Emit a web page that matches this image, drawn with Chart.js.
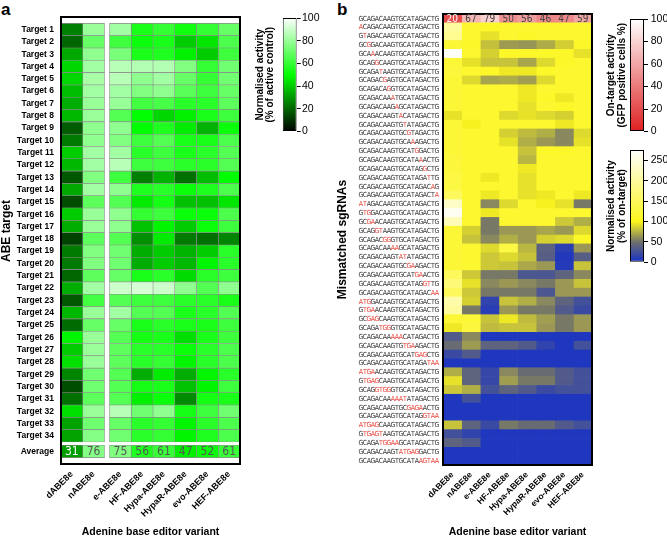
<!DOCTYPE html>
<html><head><meta charset="utf-8">
<script src="https://cdn.jsdelivr.net/npm/chart.js@4.4.1/dist/chart.umd.min.js"></script>
<style>
html,body{margin:0;padding:0;background:#fff}
body{width:667px;height:538px;position:relative;overflow:hidden;font-family:'Liberation Sans',Arial,sans-serif}
canvas{position:absolute}
.pl{position:absolute;font-weight:bold;font-size:17px;line-height:17px;color:#000}
</style></head><body>
<div class="pl" style="left:1px;top:1px">a</div>
<div class="pl" style="left:337px;top:1px">b</div>
<canvas id="ha" width="250" height="538" style="left:0;top:0"></canvas>
<canvas id="ca" width="80" height="150" style="left:250px;top:0"></canvas>
<canvas id="hb" width="265" height="538" style="left:335px;top:0"></canvas>
<canvas id="cb1" width="72" height="150" style="left:595px;top:0"></canvas>
<canvas id="cb2" width="72" height="135" style="left:595px;top:140px"></canvas>
<script>
// ---------- DATA ----------
const variants = ['dABE8e','nABE8e','e-ABE8e','HF-ABE8e','Hypa-ABE8e','HypaR-ABE8e','evo-ABE8e','HEF-ABE8e'];
const targetLabels = ['Target 1','Target 2','Target 3','Target 4','Target 5','Target 6','Target 7','Target 8','Target 9','Target 10','Target 11','Target 12','Target 13','Target 14','Target 15','Target 16','Target 17','Target 18','Target 19','Target 20','Target 21','Target 22','Target 23','Target 24','Target 25','Target 26','Target 27','Target 28','Target 29','Target 30','Target 31','Target 32','Target 33','Target 34','Average'];
// panel a: normalised activity (% of active control), Target 1..34
const a_dABE8e = [25,20,33,42,42,37,34,36,18,24,40,36,17,33,15,40,34,13,24,24,20,34,17,36,21,48,40,44,26,15,22,44,32,32];
const a_nABE8e = [80,70,78,82,83,82,80,80,78,78,82,82,75,82,68,80,80,68,75,75,68,82,63,80,70,80,80,80,72,72,68,80,72,76];
const a_eABE8e = [82,62,74,86,86,82,80,66,78,75,82,86,62,78,66,78,78,66,72,72,70,90,66,82,70,66,68,68,66,66,66,86,70,72];
const a_HFABE8e = [55,52,55,85,78,75,63,50,50,62,58,62,25,56,46,60,38,28,34,34,55,92,62,66,55,54,58,58,34,54,47,72,58,58];
const a_HypaABE8e = [60,55,56,85,82,78,64,42,56,66,62,62,35,58,54,62,48,46,40,40,58,90,62,66,58,55,58,60,46,55,52,78,60,60];
const a_HypaRABE8e = [53,40,47,75,70,67,58,47,46,55,55,58,22,52,38,52,40,24,35,36,43,78,58,55,55,44,52,48,34,38,27,54,48,48];
const a_evoABE8e = [60,45,40,60,60,62,58,55,35,55,58,58,37,56,38,52,52,22,40,48,58,66,58,58,55,55,58,58,48,48,54,62,58,56];
const a_HEFABE8e = [70,65,62,72,72,70,68,62,52,65,66,66,50,65,45,65,62,26,58,58,62,78,55,66,62,62,65,65,58,62,55,72,65,65];
const averagesA = [31,76,75,56,61,47,52,61];

// panel b
const sgRNAs = ['GCAGACAAGTGCATAGACTG','ACAGACAAGTGCATAGACTG','GTAGACAAGTGCATAGACTG','GCGGACAAGTGCATAGACTG','GCAAACAAGTGCATAGACTG','GCAGGCAAGTGCATAGACTG','GCAGATAAGTGCATAGACTG','GCAGACGAGTGCATAGACTG','GCAGACAGGTGCATAGACTG','GCAGACAAATGCATAGACTG','GCAGACAAGAGCATAGACTG','GCAGACAAGTACATAGACTG','GCAGACAAGTGTATAGACTG','GCAGACAAGTGCGTAGACTG','GCAGACAAGTGCAAAGACTG','GCAGACAAGTGCATGGACTG','GCAGACAAGTGCATAAACTG','GCAGACAAGTGCATAGGCTG','GCAGACAAGTGCATAGATTG','GCAGACAAGTGCATAGACAG','GCAGACAAGTGCATAGACTA','ATAGACAAGTGCATAGACTG','GTGGACAAGTGCATAGACTG','GCGAACAAGTGCATAGACTG','GCAGGTAAGTGCATAGACTG','GCAGACGGGTGCATAGACTG','GCAGACAAAAGCATAGACTG','GCAGACAAGTATATAGACTG','GCAGACAAGTGCGAAGACTG','GCAGACAAGTGCATGAACTG','GCAGACAAGTGCATAGGTTG','GCAGACAAGTGCATAGACAA','ATGGACAAGTGCATAGACTG','GTGAACAAGTGCATAGACTG','GCGAGCAAGTGCATAGACTG','GCAGATGGGTGCATAGACTG','GCAGACAAAAACATAGACTG','GCAGACAAGTGTGAAGACTG','GCAGACAAGTGCATGAGCTG','GCAGACAAGTGCATAGATAA','ATGAACAAGTGCATAGACTG','GTGAGCAAGTGCATAGACTG','GCAGGTGGGTGCATAGACTG','GCAGACAAAAATATAGACTG','GCAGACAAGTGCGAGAACTG','GCAGACAAGTGCATAGGTAA','ATGAGCAAGTGCATAGACTG','GTGAGTAAGTGCATAGACTG','GCAGATGGAAGCATAGACTG','GCAGACAAGTATGAGGACTG','GCAGACAAGTGCATAAGTAA'];
const onTarget = [20,67,79,50,56,46,47,59]; // GFP positive cells %
// normalised activity (% of on-target) for mismatched sgRNAs 2..51
const b_dABE8e = [200,190,120,270,120,125,120,120,120,120,92,120,120,120,120,125,125,130,130,150,230,265,220,120,120,120,120,120,150,170,150,210,200,120,95,33,46,20,5,73,92,83,5,5,5,81,25,40,5,5];
const b_nABE8e = [115,115,110,115,92,115,89,115,115,115,115,98,115,115,115,115,115,115,115,115,115,115,115,86,81,115,115,115,83,92,83,86,53,120,125,59,66,33,5,40,40,73,25,5,5,40,15,33,5,5];
const b_eABE8e = [110,92,80,86,81,110,70,115,115,115,115,115,115,115,115,115,115,95,115,95,59,95,53,53,59,89,83,83,53,59,53,15,10,81,78,5,40,5,5,18,18,25,5,5,5,20,5,5,5,5];
const b_HFABE8e = [115,115,66,110,81,95,72,115,115,115,89,115,86,92,115,115,115,115,115,115,89,115,115,65,73,130,89,81,53,65,53,81,65,95,81,5,40,5,5,59,67,40,5,5,5,53,5,5,5,5];
const b_HypaABE8e = [115,110,64,110,70,95,67,95,95,92,92,115,78,73,81,76,95,92,92,92,115,115,115,65,65,76,81,71,30,59,53,73,53,78,81,5,33,5,5,46,53,33,5,5,5,46,5,5,5,5];
const b_HypaRABE8e = [115,115,72,110,89,110,89,115,110,115,89,115,73,65,110,115,115,115,115,95,98,115,115,70,86,38,36,65,30,53,30,59,53,67,65,5,15,5,5,46,53,20,5,5,5,46,5,5,5,5];
const b_evoABE8e = [115,115,85,110,110,115,115,115,95,110,86,95,59,59,110,115,115,115,115,115,92,115,83,65,89,12,6,8,40,65,65,40,33,53,53,5,5,5,5,33,33,25,5,5,5,33,5,5,5,5];
const b_HEFABE8e = [115,115,110,92,115,115,115,115,115,115,115,115,89,92,115,115,115,115,115,95,53,115,73,89,110,65,36,81,59,81,65,25,20,65,65,5,25,5,5,25,25,25,5,5,5,25,5,5,5,5];

// ---------- colour ramps ----------
const GREEN = [[0,[0,0,0]],[50,[0,255,0]],[100,[255,255,255]]];
const RED = [[0,[222,32,32]],[100,[255,255,255]]];
const YB = [[0,[22,48,200]],[50,[112,112,108]],[100,[252,246,28]],[275,[255,255,255]]];
function ramp(stops, v){
  if (v <= stops[0][0]) return 'rgb('+stops[0][1].join(',')+')';
  for (let i=1;i<stops.length;i++){
    if (v <= stops[i][0]){
      const [v0,c0]=stops[i-1],[v1,c1]=stops[i], t=(v-v0)/(v1-v0);
      return 'rgb('+c0.map((c,k)=>Math.round(c+(c1[k]-c)*t)).join(',')+')';
    }
  }
  return 'rgb('+stops[stops.length-1][1].join(',')+')';
}

Chart.defaults.font.family = "'Liberation Sans', Arial, sans-serif";
Chart.defaults.color = '#000';
Chart.defaults.animation = false;
Chart.defaults.plugins.legend.display = false;
Chart.defaults.plugins.tooltip.enabled = false;

const frame = {id:'frame', afterDatasetsDraw(ch){const a=ch.chartArea,x=ch.ctx;x.save();x.strokeStyle='#000';x.lineWidth=2;x.strokeRect(a.left,a.top,a.right-a.left,a.bottom-a.top);x.restore();}};

// ---------- panel a heatmap ----------
const colsA = [a_dABE8e,a_nABE8e,a_eABE8e,a_HFABE8e,a_HypaABE8e,a_HypaRABE8e,a_evoABE8e,a_HEFABE8e];
const NROW = 34, GX = 0.23, GY = 0.27;
const colStartA = c => c + (c>=2 ? GX : 0);
const rowPosA = r => r < NROW ? r+0.5 : NROW+GY+0.5;

const avgLabels = {id:'avgLabels', afterDatasetsDraw(ch){
  const x=ch.ctx; x.save();
  x.font='12px "Liberation Sans Narrow","DejaVu Sans Condensed","Liberation Sans",sans-serif';
  x.textAlign='center'; x.textBaseline='middle';
  averagesA.forEach((v,c)=>{const p=ch.getDatasetMeta(c).data[NROW].getCenterPoint(); x.fillStyle=v<40?'#fff':'#555'; x.fillText(String(v),p.x,p.y+0.5);});
  x.restore();}};
const yTitleA = {id:'yTitleA', afterDraw(ch){const x=ch.ctx;x.save();x.font='bold 12px "Liberation Sans",Arial,sans-serif';x.fillStyle='#000';x.textAlign='center';x.textBaseline='middle';x.translate(7,231);x.rotate(-Math.PI/2);x.fillText('ABE target',0,0);x.restore();}};

new Chart(document.getElementById('ha'), {
  type:'bar',
  data:{datasets: variants.map((name,c)=>({
    label:name,
    data:[...colsA[c], averagesA[c]].map((v,r)=>({y:rowPosA(r), x:[colStartA(c), colStartA(c)+1]})),
    backgroundColor:[...colsA[c], averagesA[c]].map(v=>ramp(GREEN,v)),
    borderColor:'#8a8a8a', borderWidth:0.6, borderSkipped:false,
    grouped:false, categoryPercentage:1, barPercentage:1}))},
  options:{indexAxis:'y', responsive:false,
    layout:{padding:{top:17,right:10,left:0,bottom:0}},
    scales:{
      x:{type:'linear', min:0, max:8+GX, position:'bottom',
        afterBuildTicks:s=>{s.ticks=variants.map((_,c)=>({value:colStartA(c)+0.5}));},
        ticks:{autoSkip:false, minRotation:45, maxRotation:45, padding:5, font:{weight:'bold',size:9}, callback:(v,i)=>variants[i]},
        grid:{display:false, drawTicks:false}, border:{display:false},
        title:{display:true, text:'Adenine base editor variant', font:{weight:'bold',size:10.5}, padding:{top:0,bottom:0}},
        afterFit:s=>{s.height=74;}},
      y:{type:'linear', min:0, max:NROW+1+GY, reverse:true,
        afterBuildTicks:s=>{s.ticks=targetLabels.map((_,r)=>({value:rowPosA(r)}));},
        ticks:{autoSkip:false, padding:7, font:{weight:'bold',size:8.5}, callback:(v,i)=>targetLabels[i]},
        grid:{display:false, drawTicks:false}, border:{display:false},
        afterFit:s=>{s.width=61;}}
    }},
  plugins:[frame, avgLabels, yTitleA]
});

// ---------- panel b heatmap ----------
const colsB = [b_dABE8e,b_nABE8e,b_eABE8e,b_HFABE8e,b_HypaABE8e,b_HypaRABE8e,b_evoABE8e,b_HEFABE8e];
const seqLabels = {id:'seqLabels', afterDraw(ch){
  const x=ch.ctx, ys=ch.scales.y, ref=sgRNAs[0]; x.save();
  x.font='7px "Liberation Sans Narrow","DejaVu Sans Condensed","Liberation Sans",sans-serif';
  x.textAlign='center'; x.textBaseline='middle';
  sgRNAs.forEach((s,r)=>{const py=ys.getPixelForValue(r);
    for(let i=0;i<s.length;i++){x.fillStyle=(r>0&&s[i]!==ref[i])?'#e8443a':'#333';x.fillText(s[i],24+i*4+2,py+0.3);}});
  x.restore();}};
const headerLabels = {id:'headerLabels', afterDatasetsDraw(ch){
  const x=ch.ctx; x.save();
  x.font='10px "Liberation Sans Narrow","DejaVu Sans Condensed","Liberation Sans",sans-serif';
  x.textAlign='center'; x.textBaseline='middle';
  onTarget.forEach((v,c)=>{const p=ch.getDatasetMeta(c).data[0].getCenterPoint(); x.fillStyle=v<40?'#fff':'#444'; x.fillText(String(v),p.x,p.y+0.5);});
  x.restore();}};

new Chart(document.getElementById('hb'), {
  type:'bar',
  data:{labels:sgRNAs, datasets: variants.map((name,c)=>({
    label:name,
    data:sgRNAs.map(()=>[c,c+1]),
    backgroundColor:[ramp(RED,onTarget[c]), ...colsB[c].map(v=>ramp(YB,v))],
    borderWidth:0, grouped:false, categoryPercentage:1, barPercentage:1}))},
  options:{indexAxis:'y', responsive:false,
    layout:{padding:{top:14,right:8,left:0,bottom:0}},
    scales:{
      x:{type:'linear', min:0, max:8, position:'bottom',
        afterBuildTicks:s=>{s.ticks=variants.map((_,c)=>({value:c+0.5}));},
        ticks:{autoSkip:false, minRotation:45, maxRotation:45, padding:5, font:{weight:'bold',size:8.5}, callback:(v,i)=>variants[i]},
        grid:{display:false, drawTicks:false}, border:{display:false},
        title:{display:true, text:'Adenine base editor variant', font:{weight:'bold',size:10.5}, padding:{top:0,bottom:0}},
        afterFit:s=>{s.height=73;}},
      y:{type:'category', ticks:{display:false}, grid:{display:false, drawTicks:false}, border:{display:false},
        title:{display:true, text:'Mismatched sgRNAs', font:{weight:'bold',size:12}, padding:{top:0,bottom:0}},
        afterFit:s=>{s.width=108;}}
    }},
  plugins:[frame, seqLabels, headerLabels]
});

// ---------- colour bars ----------
function colorbar(id, o){
  new Chart(document.getElementById(id), {
    type:'bar',
    data:{labels:[''], datasets:[{data:[[o.min,o.max]],
      backgroundColor:ctx=>{const ch=ctx.chart,a=ch.chartArea; if(!a) return '#fff';
        const g=ch.ctx.createLinearGradient(0,a.bottom,0,a.top);
        o.stops.forEach(([v,c])=>g.addColorStop((v-o.min)/(o.max-o.min),'rgb('+c.join(',')+')')); return g;},
      borderColor:'#000', borderWidth:1, borderSkipped:false, categoryPercentage:1, barPercentage:1, inflateAmount:0}]},
    options:{responsive:false,
      layout:{padding:{top:o.padTop,bottom:o.padBottom,left:0,right:0}},
      scales:{
        x:{display:false},
        y:{position:'right', min:o.min, max:o.max,
          ticks:{stepSize:o.step, includeBounds:false, padding:o.tickPad, font:{size:10.5}, color:'#000'},
          grid:{drawOnChartArea:false, tickLength:4, color:'#000'}, border:{display:false},
          afterFit:s=>{s.width=o.rightW;}},
        yt:{position:'left', ticks:{display:false}, grid:{display:false, drawTicks:false}, border:{display:false},
          title:{display:true, text:o.title, color:'#000', font:{weight:'bold',size:10,lineHeight:1.05}, padding:{top:o.titlePad,bottom:0}},
          afterFit:s=>{s.width=o.leftW;}}
      }}
  });
}
colorbar('ca', {min:0,max:100,step:20,stops:GREEN,title:['Normalised activity','(% of active control)'],leftW:32.7,rightW:33.3,padTop:18,padBottom:18.5,titlePad:4.75,tickPad:1.3});
colorbar('cb1',{min:0,max:100,step:20,stops:RED,title:['On-target activity','(GFP positive cells %)'],leftW:35,rightW:23,padTop:19,padBottom:18.5,titlePad:11.4,tickPad:2.7});
colorbar('cb2',{min:0,max:275,step:50,stops:YB,title:['Normalised activity','(% of on-target)'],leftW:35,rightW:23,padTop:10,padBottom:12.7,titlePad:11.4,tickPad:2.7});
</script></body></html>
